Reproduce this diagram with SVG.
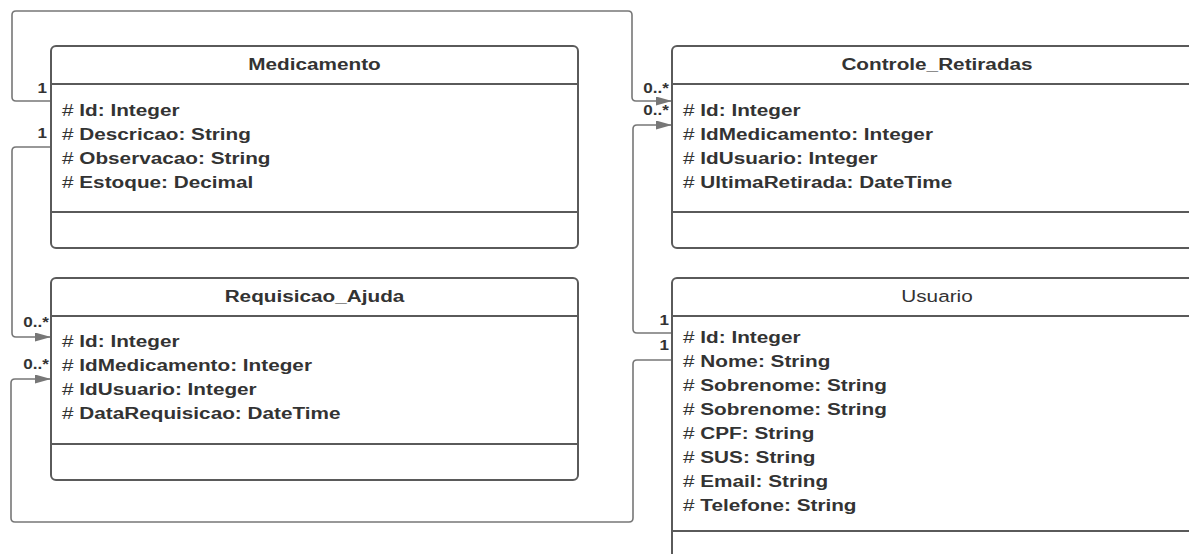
<svg xmlns="http://www.w3.org/2000/svg" width="1189" height="554" viewBox="0 0 1189 554">
  <style>
    .box { fill: #ffffff; stroke: #5a5a5a; stroke-width: 2; }
    .div { stroke: #5a5a5a; stroke-width: 2; fill: none; }
    .title { font-family: "Liberation Sans", Arial, sans-serif; font-size: 17px; font-weight: bold; fill: #333333; text-anchor: middle; }
    .title.plain { font-weight: normal; }
    .attr { font-family: "Liberation Sans", Arial, sans-serif; font-size: 17px; font-weight: bold; fill: #333333; }
    .attr .h { font-weight: normal; }
    .edge { fill: none; stroke: #777777; stroke-width: 1.6; }
    .mult { font-family: "Liberation Sans", Arial, sans-serif; font-size: 14px; font-weight: bold; fill: #333333; text-anchor: end; }
  </style>
  <defs>
    <marker id="arrow" markerUnits="userSpaceOnUse" markerWidth="18" markerHeight="10" refX="16" refY="4.5" orient="auto">
      <path d="M0,0 L16,4.5 L0,9 z" fill="#777777"/>
    </marker>
  </defs>

  <rect width="1189" height="554" fill="#ffffff"/>

  <!-- associations -->
  <g id="connectors">
    <path class="edge" marker-end="url(#arrow)" d="M51,101 H16 Q12,101 12,97 V15 Q12,11 16,11 H628 Q632,11 632,15 V97 Q632,101 636,101 H672"/>
    <path class="edge" marker-end="url(#arrow)" d="M51,147 H16 Q12,147 12,151 V333 Q12,337 16,337 H51"/>
    <path class="edge" marker-end="url(#arrow)" d="M672,333 H637 Q633,333 633,329 V129 Q633,125 637,125 H672"/>
    <path class="edge" marker-end="url(#arrow)" d="M672,360 H637 Q633,360 633,364 V518 Q633,522 629,522 H15 Q11,522 11,518 V383 Q11,379 15,379 H51"/>

    <text class="mult" transform="translate(47 93) scale(1.22 1)">1</text>
    <text class="mult" transform="translate(47 138) scale(1.22 1)">1</text>
    <text class="mult" transform="translate(669 93) scale(1.22 1)">0..*</text>
    <text class="mult" transform="translate(669 115) scale(1.22 1)">0..*</text>
    <text class="mult" transform="translate(49 327) scale(1.22 1)">0..*</text>
    <text class="mult" transform="translate(49 369) scale(1.22 1)">0..*</text>
    <text class="mult" transform="translate(669 325) scale(1.22 1)">1</text>
    <text class="mult" transform="translate(669 350) scale(1.22 1)">1</text>
  </g>

  <!-- Medicamento -->
  <g id="medicamento">
    <rect class="box" x="51" y="46" width="527" height="202" rx="5"/>
    <line class="div" x1="51" y1="84" x2="578" y2="84"/>
    <line class="div" x1="51" y1="212" x2="578" y2="212"/>
    <text class="title" transform="translate(314.5 70) scale(1.22 1)">Medicamento</text>
    <g class="attr" transform="translate(62 0) scale(1.22 1)">
      <text y="116"><tspan class="h"># </tspan>Id: Integer</text>
      <text y="140"><tspan class="h"># </tspan>Descricao: String</text>
      <text y="164"><tspan class="h"># </tspan>Observacao: String</text>
      <text y="188"><tspan class="h"># </tspan>Estoque: Decimal</text>
    </g>
  </g>

  <!-- Requisicao_Ajuda -->
  <g id="requisicao-ajuda">
    <rect class="box" x="51" y="278" width="527" height="202" rx="5"/>
    <line class="div" x1="51" y1="316" x2="578" y2="316"/>
    <line class="div" x1="51" y1="444" x2="578" y2="444"/>
    <text class="title" transform="translate(314.5 302) scale(1.22 1)">Requisicao_Ajuda</text>
    <g class="attr" transform="translate(62 0) scale(1.22 1)">
      <text y="347"><tspan class="h"># </tspan>Id: Integer</text>
      <text y="371"><tspan class="h"># </tspan>IdMedicamento: Integer</text>
      <text y="395"><tspan class="h"># </tspan>IdUsuario: Integer</text>
      <text y="419"><tspan class="h"># </tspan>DataRequisicao: DateTime</text>
    </g>
  </g>

  <!-- Controle_Retiradas -->
  <g id="controle-retiradas">
    <rect class="box" x="672" y="46" width="530" height="202" rx="5"/>
    <line class="div" x1="672" y1="84" x2="1202" y2="84"/>
    <line class="div" x1="672" y1="212" x2="1202" y2="212"/>
    <text class="title" transform="translate(937 70) scale(1.22 1)">Controle_Retiradas</text>
    <g class="attr" transform="translate(683 0) scale(1.22 1)">
      <text y="116"><tspan class="h"># </tspan>Id: Integer</text>
      <text y="140"><tspan class="h"># </tspan>IdMedicamento: Integer</text>
      <text y="164"><tspan class="h"># </tspan>IdUsuario: Integer</text>
      <text y="188"><tspan class="h"># </tspan>UltimaRetirada: DateTime</text>
    </g>
  </g>

  <!-- Usuario -->
  <g id="usuario">
    <rect class="box" x="672" y="278" width="530" height="320" rx="5"/>
    <line class="div" x1="672" y1="316" x2="1202" y2="316"/>
    <line class="div" x1="672" y1="531" x2="1202" y2="531"/>
    <text class="title plain" transform="translate(937 302) scale(1.22 1)">Usuario</text>
    <g class="attr" transform="translate(683 0) scale(1.22 1)">
      <text y="343"><tspan class="h"># </tspan>Id: Integer</text>
      <text y="367"><tspan class="h"># </tspan>Nome: String</text>
      <text y="391"><tspan class="h"># </tspan>Sobrenome: String</text>
      <text y="415"><tspan class="h"># </tspan>Sobrenome: String</text>
      <text y="439"><tspan class="h"># </tspan>CPF: String</text>
      <text y="463"><tspan class="h"># </tspan>SUS: String</text>
      <text y="487"><tspan class="h"># </tspan>Email: String</text>
      <text y="511"><tspan class="h"># </tspan>Telefone: String</text>
    </g>
  </g>
</svg>
